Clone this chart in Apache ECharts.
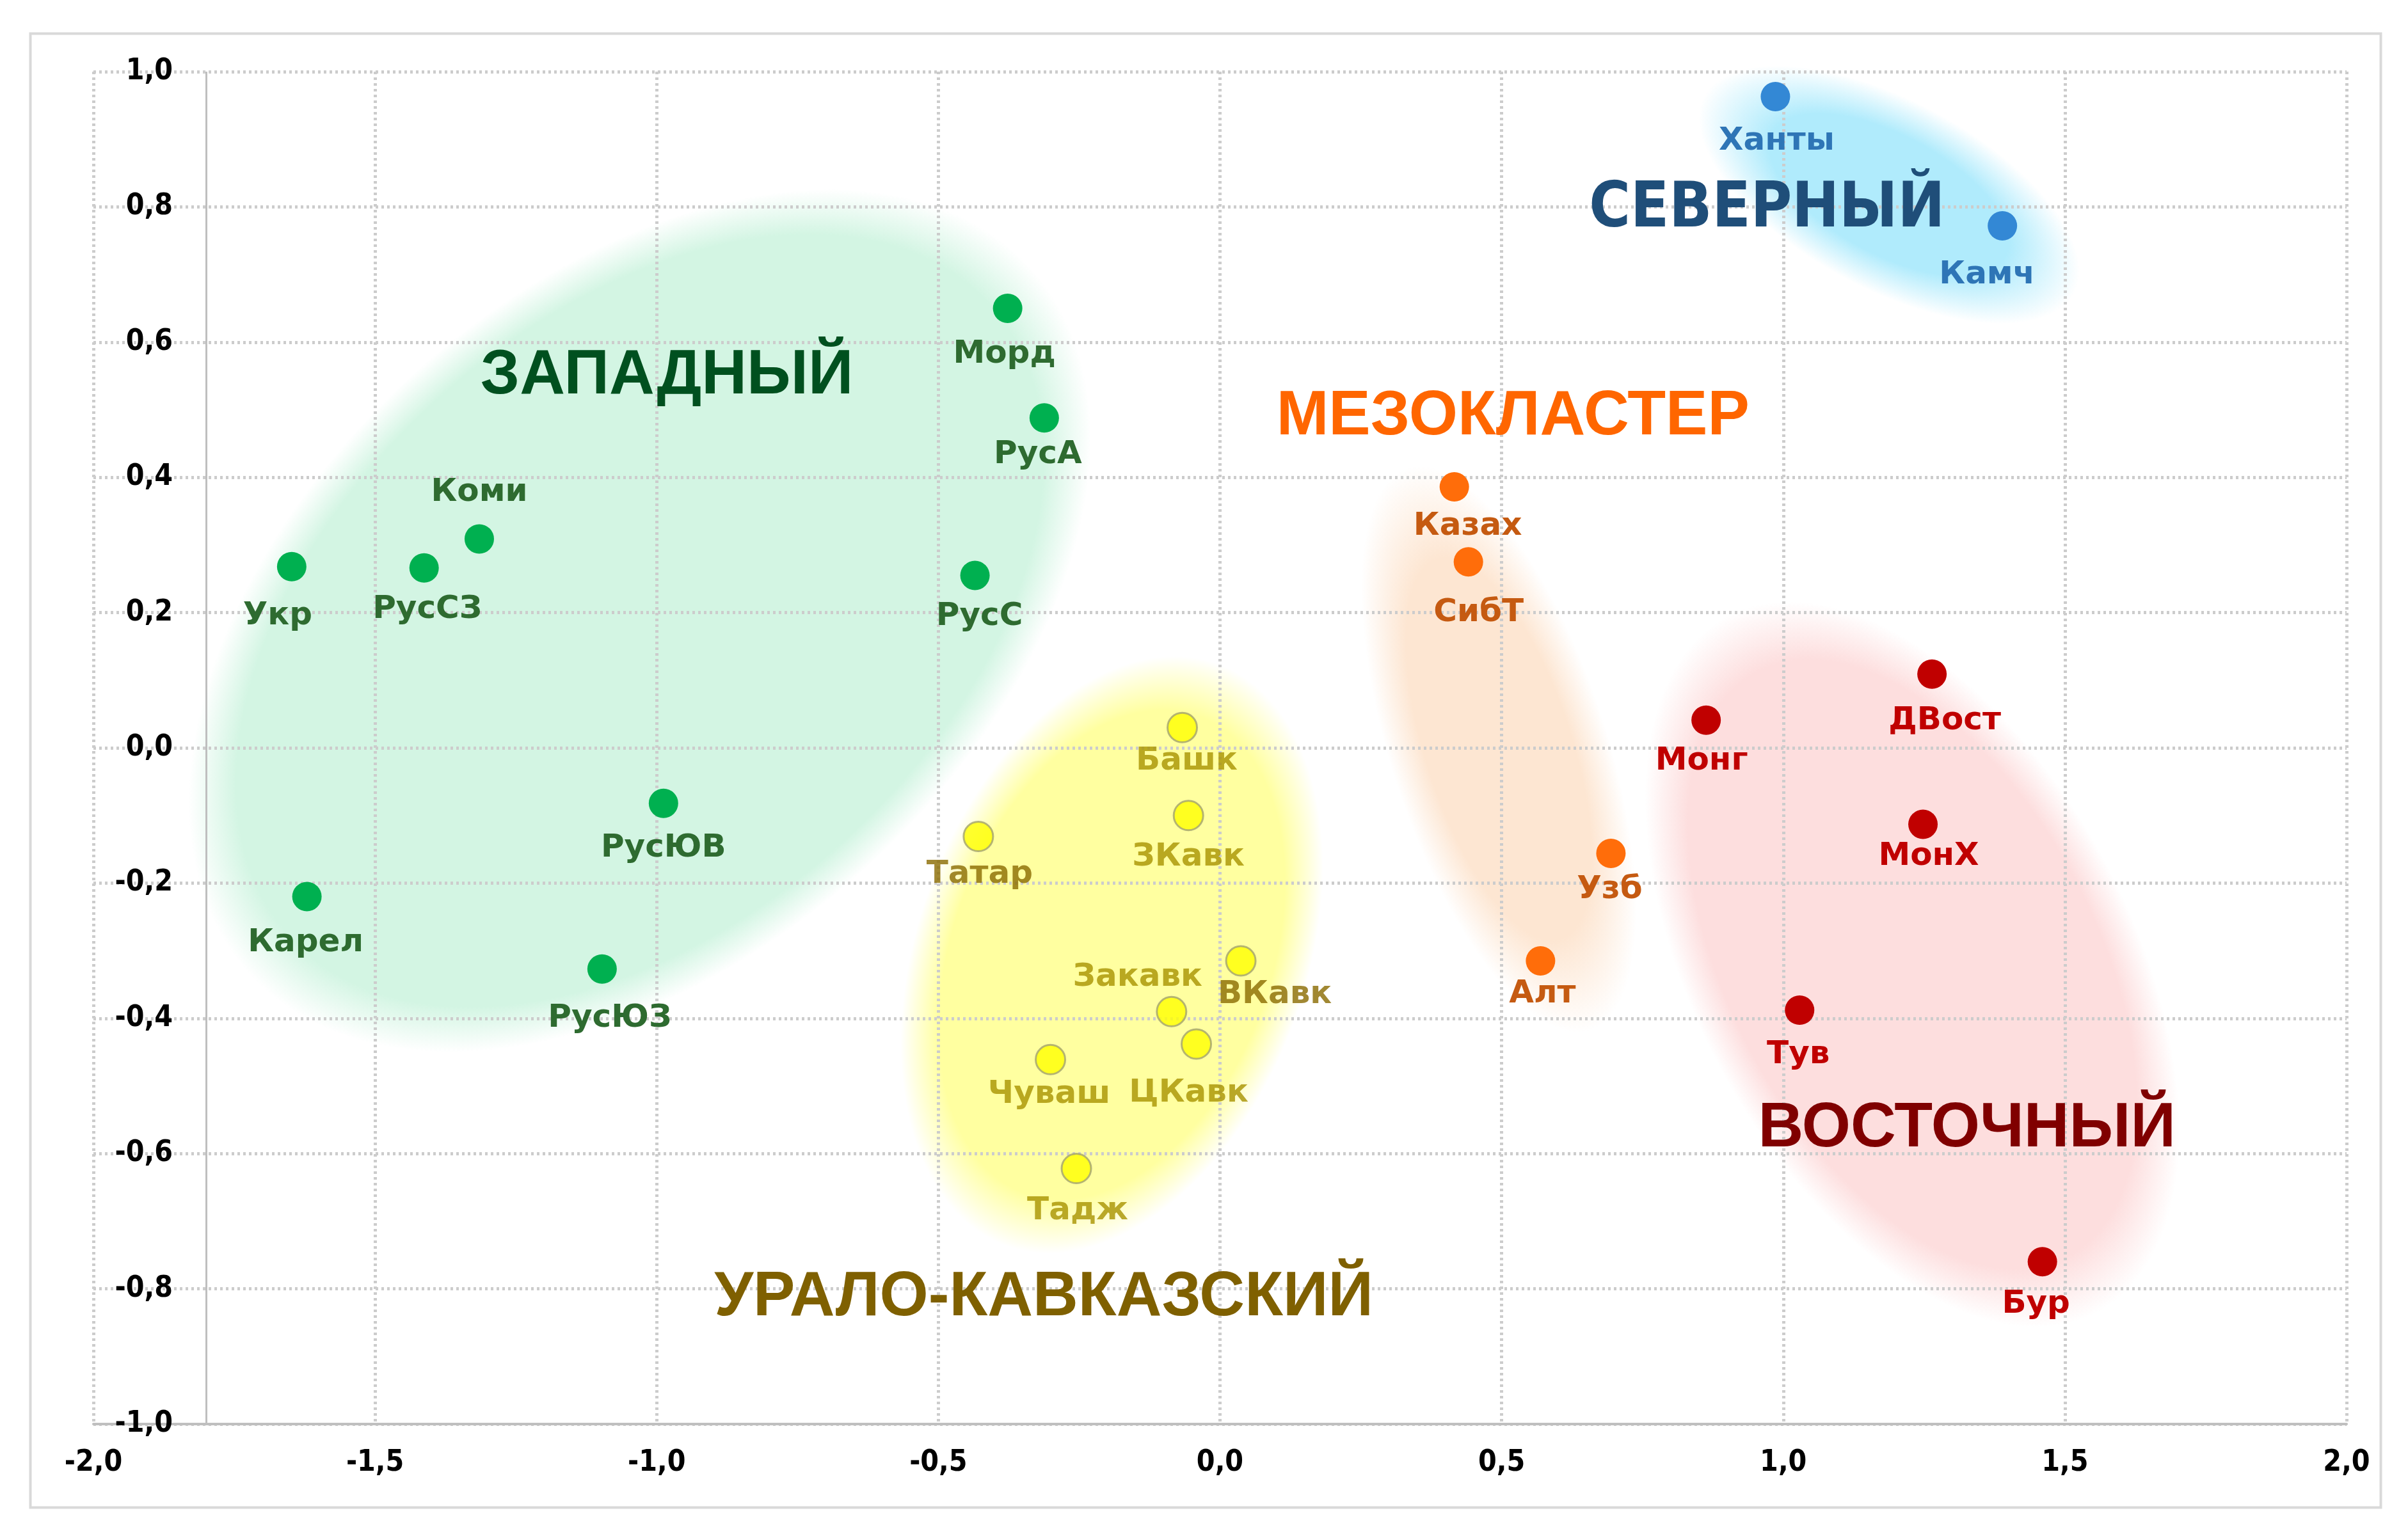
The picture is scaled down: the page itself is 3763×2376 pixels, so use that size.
<!DOCTYPE html>
<html><head><meta charset="utf-8">
<script src="https://cdn.jsdelivr.net/npm/echarts@6/dist/echarts.min.js"></script>
<style>html,body{margin:0;padding:0;background:#fff}#c{width:3763px;height:2376px}</style>
</head><body><div id="c"></div>
<script>
// ---------------- DATA ----------------
const westNames = ['Укр','РусСЗ','Коми','Морд','РусА','РусС','РусЮВ','Карел','РусЮЗ'];
const westX = [-1.648,-1.413,-1.315,-0.377,-0.312,-0.435,-0.988,-1.621,-1.097];
const westY = [0.268,0.266,0.309,0.650,0.488,0.255,-0.082,-0.220,-0.327];

const uralNames = ['Башк','ЗКавк','Татар','ВКавк','Закавк','ЦКавк','Чуваш','Тадж'];
const uralX = [-0.067,-0.056,-0.429,0.037,-0.086,-0.042,-0.301,-0.255];
const uralY = [0.030,-0.100,-0.131,-0.315,-0.390,-0.438,-0.461,-0.622];

const mesoNames = ['Казах','СибТ','Узб','Алт'];
const mesoX = [0.416,0.441,0.694,0.569];
const mesoY = [0.386,0.275,-0.156,-0.315];

const eastNames = ['ДВост','Монг','МонХ','Тув','Бур'];
const eastX = [1.264,0.863,1.248,1.029,1.460];
const eastY = [0.109,0.041,-0.113,-0.388,-0.760];

const northNames = ['Ханты','Камч'];
const northX = [0.986,1.389];
const northY = [0.963,0.772];

// cluster regions (centre, semi-axes in x-units, tilt in degrees)
const clusterTitles = ['ЗАПАДНЫЙ','УРАЛО-КАВКАЗСКИЙ','МЕЗОКЛАСТЕР','ВОСТОЧНЫЙ','СЕВЕРНЫЙ'];
const clusterTitleX = [-0.982,-0.313,0.520,1.326,0.971];
const clusterTitleY = [0.550,-0.814,0.489,-0.564,0.795];
const clusterCenterX = [-1.030,-0.192,0.495,1.229,1.188];
const clusterCenterY = [0.188,-0.306,-0.002,-0.320,0.818];
const clusterSemiMajor = [0.935,0.550,0.525,0.700,0.372];
const clusterSemiMinor = [0.595,0.345,0.192,0.388,0.168];
const clusterTilt = [42,70,-72,-62,-28];

const xTicks = {min:-2, max:2, interval:0.5};
const yTicks = {min:-1, max:1, interval:0.2};
const yAxisCrossAt = -1.8;

// ---------------- STYLE ----------------
const ellipseColors = ['#d3f5e3','#ffffa0','#fde6d2','#fddede','#b0ebfc'];
const titleColors = ['#00501f','#7f6000','#ff6600','#800000','#1f4e79'];
const titleFonts = ['"Liberation Sans", Arial, sans-serif','"Liberation Sans", Arial, sans-serif','"Liberation Sans", Arial, sans-serif','"Liberation Sans", Arial, sans-serif','"DejaVu Sans Condensed", "DejaVu Sans", sans-serif'];
const labelFont = '"DejaVu Sans", Verdana, sans-serif';
const axisFont = '"DejaVu Sans Condensed", "Liberation Sans Narrow", "DejaVu Sans", sans-serif';

const labelOffsets = {
  'Укр':[-22,77],'РусСЗ':[5,65],'Коми':[0,-72],'Морд':[-5,72],'РусА':[-10,58],'РусС':[7,65],
  'РусЮВ':[0,70],'Карел':[-2,72],'РусЮЗ':[12,77],
  'Башк':[7,53],'ЗКавк':[0,65],'Татар':[2,60],'ВКавк':[53,53],'Закавк':[-53,-53],'ЦКавк':[-12,77],
  'Чуваш':[-2,55],'Тадж':[2,67],
  'Казах':[21,62],'СибТ':[16,80],'Узб':[-2,57],'Алт':[3,52],
  'ДВост':[20,73],'Монг':[-7,64],'МонХ':[9,51],'Тув':[-2,70],'Бур':[-10,67],
  'Ханты':[2,70],'Камч':[-24,77]
};
const labelColorOverride = {'Татар':'#8a6a00','ВКавк':'#8a6a00'};

function transparent(hex){
  const n = parseInt(hex.slice(1),16);
  return 'rgba('+((n>>16)&255)+','+((n>>8)&255)+','+(n&255)+',0)';
}
const fadePx = 55;

function pointSeries(name, names, xs, ys, color, labelColor, extra){
  return Object.assign({
    type:'scatter', name:name, symbol:'circle', symbolSize:46, z:5,
    itemStyle:{color:color, opacity:1},
    emphasis:{disabled:true},
    label:{show:true, position:'inside', formatter:p=>p.name, color:labelColor,
      fontFamily:labelFont, fontWeight:'bold', fontSize:50},
    data: names.map((n,i)=>({name:n, value:[xs[i], ys[i]],
      label:Object.assign({offset:labelOffsets[n]||[0,60]}, labelColorOverride[n]?{color:labelColorOverride[n]}:{})}))
  }, extra||{});
}

const ellipseData = clusterCenterX.map((x,i)=>[x, clusterCenterY[i], clusterSemiMajor[i], clusterSemiMinor[i], clusterTilt[i]]);
const titleData = clusterTitleX.map((x,i)=>[x, clusterTitleY[i]]);

const chart = echarts.init(document.getElementById('c'), null, {renderer:'canvas'});
const fmt = v => (Math.abs(v) < 1e-9 ? 0 : v).toFixed(1).replace('.', ',');

chart.setOption({
  animation:false,
  backgroundColor:'#ffffff',
  graphic:[{type:'rect', left:45, top:50, shape:{width:3673, height:2304},
    style:{fill:'none', stroke:'#d9d9d9', lineWidth:4}, silent:true, z:-10}],
  grid:{left:146, right:96, top:112, bottom:150, containLabel:false},
  xAxis:{type:'value', min:xTicks.min, max:xTicks.max, interval:xTicks.interval,
    axisLine:{show:true, onZero:false, lineStyle:{color:'#bfbfbf', width:4}},
    axisTick:{show:false},
    axisLabel:{formatter:fmt, color:'#000', fontFamily:axisFont, fontWeight:'bold', fontSize:46, margin:38},
    splitLine:{show:true, lineStyle:{color:'#cccccc', width:5, type:[4,5]}}},
  yAxis:{type:'value', min:yTicks.min, max:yTicks.max, interval:yTicks.interval,
    axisLine:{show:false}, axisTick:{show:false},
    axisLabel:{formatter:fmt, color:'#000', fontFamily:axisFont, fontWeight:'bold', fontSize:46, margin:-124},
    splitLine:{show:true, lineStyle:{color:'#cccccc', width:5, type:[4,5]}}},
  series:[
    {type:'custom', name:'regions', z:-1, silent:true, clip:false,
     data:ellipseData,
     renderItem:function(params, api){
       const c = api.coord([api.value(0), api.value(1)]);
       const a = api.size([api.value(2), 0])[0];
       const b = api.size([api.value(3), 0])[0];
       const ang = api.value(4) * Math.PI / 180;
       const col = ellipseColors[params.dataIndex];
       const inner = Math.max(0, 1 - fadePx / b);
       return {type:'circle', x:c[0], y:c[1], rotation:ang, scaleX:1, scaleY:b/a,
         shape:{cx:0, cy:0, r:a},
         style:{fill:{type:'radial', x:0.5, y:0.5, r:0.5, colorStops:[
           {offset:0, color:col},{offset:inner, color:col},{offset:1, color:transparent(col)}]}}};
     }},
    pointSeries('Западный', westNames, westX, westY, '#00b050', '#2e6b30', {
      markLine:{silent:true, symbol:'none', label:{show:false},
        lineStyle:{color:'#bfbfbf', width:3, type:'solid'},
        data:[{xAxis:yAxisCrossAt}]}}),
    pointSeries('Урало-Кавказский', uralNames, uralX, uralY, '#ffff00', '#a89200',
      {itemStyle:{color:'#ffff00', borderColor:'#a2a270', borderWidth:3}}),
    pointSeries('Мезокластер', mesoNames, mesoX, mesoY, '#ff6d0a', '#c55a11'),
    pointSeries('Восточный', eastNames, eastX, eastY, '#c00000', '#c00000'),
    pointSeries('Северный', northNames, northX, northY, '#3388d5', '#2e75b6'),
    {type:'custom', name:'titles', z:10, silent:true, clip:false,
     data:titleData,
     renderItem:function(params, api){
       const p = api.coord([api.value(0), api.value(1)]);
       const i = params.dataIndex;
       return {type:'text', x:p[0], y:p[1],
         style:{text:clusterTitles[i], fill:titleColors[i],
           font:'bold 98px ' + titleFonts[i],
           align:'center', verticalAlign:'middle', textAlign:'center', textVerticalAlign:'middle'}};
     }}
  ]
});
</script></body></html>
